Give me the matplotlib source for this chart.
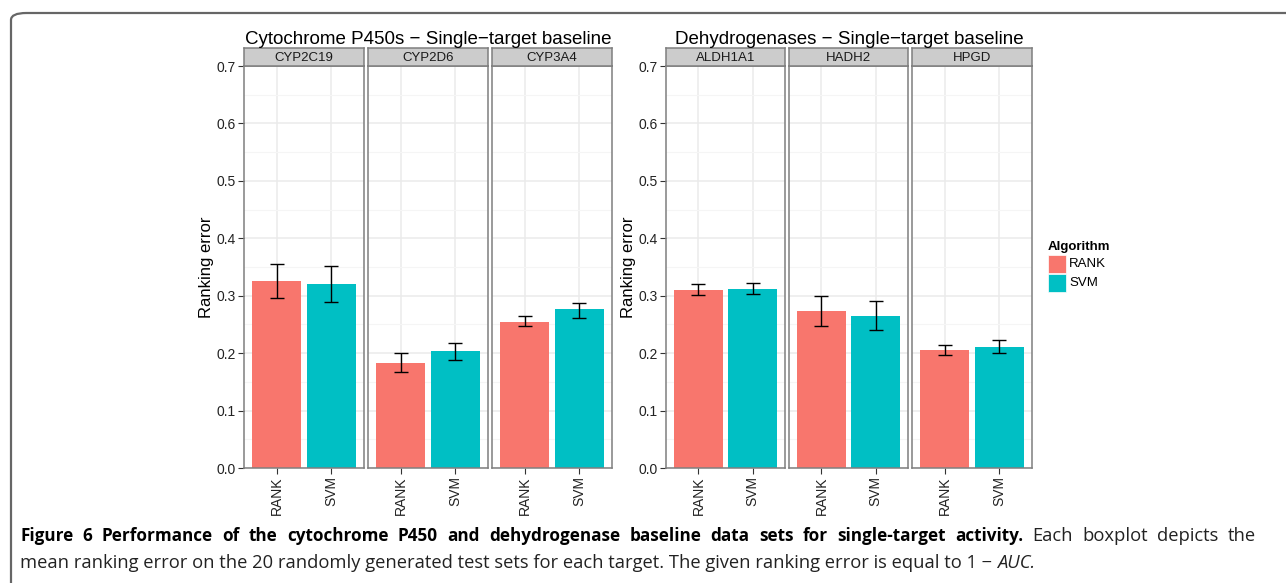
import numpy as np
import matplotlib
matplotlib.use('Agg')
from matplotlib import pyplot as plt
from matplotlib.patches import FancyBboxPatch, Rectangle

plt.rcParams['font.family'] = ['Liberation Sans', 'DejaVu Sans']

W, H = 1286, 583

algorithms = ['RANK', 'SVM']
colors = ['#F8766D', '#00BFC4']

group_titles = ['Cytochrome P450s \u2212 Single\u2212target baseline',
                'Dehydrogenases \u2212 Single\u2212target baseline']
targets = [['CYP2C19', 'CYP2D6', 'CYP3A4'],
           ['ALDH1A1', 'HADH2', 'HPGD']]

# mean ranking error per target, [RANK, SVM]
means = [[[0.326, 0.321], [0.183, 0.203], [0.255, 0.276]],
         [[0.310, 0.312], [0.274, 0.265], [0.206, 0.211]]]
lower = [[[0.296, 0.289], [0.167, 0.188], [0.247, 0.262]],
         [[0.301, 0.303], [0.248, 0.240], [0.196, 0.201]]]
upper = [[[0.356, 0.352], [0.200, 0.218], [0.265, 0.288]],
         [[0.320, 0.323], [0.299, 0.290], [0.215, 0.223]]]

fig = plt.figure(figsize=(W / 100, H / 100), dpi=100)


def fx(px):
    return px / W


def fy(py):
    return 1 - py / H


# outer frame of the figure box
frame = FancyBboxPatch((fx(11), fy(700)), fx(1400), (700 - 13) / H,
                       boxstyle='round,pad=0,rounding_size=0.012',
                       transform=fig.transFigure, fill=False,
                       edgecolor='#666666', lw=1.6, clip_on=False)
fig.patches.append(frame)

panel_x = [[(244, 364), (368, 488), (492, 612)],
           [(666, 785), (789, 908), (912, 1032)]]
top, bottom = 66, 468
strip_h = 18

for g in range(2):
    for p in range(3):
        x0, x1 = panel_x[g][p]
        ax = fig.add_axes([fx(x0), fy(bottom), (x1 - x0) / W, (bottom - top) / H])
        xs = np.arange(1, 3)
        ax.bar(xs, means[g][p], width=0.9, color=colors, zorder=2)
        m = np.array(means[g][p])
        err = [m - np.array(lower[g][p]), np.array(upper[g][p]) - m]
        ax.errorbar(xs, m, yerr=err, fmt='none', ecolor='black', elinewidth=1,
                    capsize=5, capthick=1, zorder=3)
        ax.set_xlim(0.4, 2.6)
        ax.set_ylim(0, 0.7)
        ax.set_yticks(np.arange(0, 0.71, 0.1))
        ax.set_yticks(np.arange(0.05, 0.7, 0.1), minor=True)
        ax.set_xticks(xs)
        ax.set_xticklabels(algorithms, rotation=90, fontsize=9.5)
        ax.grid(True, which='major', color='#EBEBEB', lw=1.1, zorder=0)
        ax.grid(True, which='minor', axis='y', color='#F5F5F5', lw=0.8, zorder=0)
        ax.set_axisbelow(True)
        for s in ax.spines.values():
            s.set_color('#7F7F7F')
            s.set_linewidth(1.1)
        ax.tick_params(axis='both', which='major', length=4, color='#333333',
                       labelsize=10, labelcolor='#222222', pad=2)
        ax.tick_params(axis='both', which='minor', length=0)
        if p == 0:
            ax.set_yticklabels(['%.1f' % v for v in np.arange(0, 0.71, 0.1)])
            ax.set_ylabel('Ranking error', fontsize=12, labelpad=2)
        else:
            ax.tick_params(axis='y', left=False, labelleft=False)
        # facet strip
        sax = fig.add_axes([fx(x0), fy(top), (x1 - x0) / W, strip_h / H])
        sax.set_xticks([])
        sax.set_yticks([])
        sax.set_facecolor('#CCCCCC')
        for s in sax.spines.values():
            s.set_color('#7F7F7F')
            s.set_linewidth(1.1)
        sax.text(0.5, 0.45, targets[g][p], ha='center', va='center', fontsize=9.5,
                 color='#1A1A1A', transform=sax.transAxes)
    cx = (panel_x[g][0][0] + panel_x[g][2][1]) / 2
    fig.text(fx(cx), fy(39), group_titles[g], ha='center', va='center', fontsize=13.5)

# legend
fig.text(fx(1048), fy(247), 'Algorithm', ha='left', va='center', fontsize=9.5,
         fontweight='bold')
for i, name in enumerate(algorithms):
    yy = 255 + i * 19
    fig.patches.append(Rectangle((fx(1048), fy(yy + 18)), 18 / W, 18 / H,
                                 transform=fig.transFigure, facecolor=colors[i],
                                 edgecolor='white', lw=0.5))
    fig.text(fx(1069), fy(yy + 9), name, ha='left', va='center', fontsize=9.5)

# caption, first line justified between x=20 and x=1256
cap = ['Open Sans', 'DejaVu Sans']
bold_part = 'Figure 6 Performance of the cytochrome P450 and dehydrogenase baseline data sets for single-target activity.'
rest = 'Each boxplot depicts the'
words = [(w, 'bold') for w in bold_part.split()] + [(w, 'normal') for w in rest.split()]
items = []
for w, wt in words:
    t = fig.text(0, fy(536), w, ha='left', va='center', family=cap,
                 fontweight=wt, fontsize=12.3 if wt == 'bold' else 13.2,
                 color='black' if wt == 'bold' else '#222222')
    items.append(t)
fig.canvas.draw()
widths = [t.get_window_extent().width for t in items]
gap = (1256 - 20 - sum(widths)) / (len(items) - 1)
x = 20
for t, wd in zip(items, widths):
    t.set_x(x / W)
    x += wd + gap

t3 = fig.text(fx(20), fy(563),
              'mean ranking error on the 20 randomly generated test sets for each target. The given ranking error is equal to 1 \u2212 ',
              ha='left', va='center', fontsize=13.2, family=cap, color='#222222')
fig.canvas.draw()
bb3 = t3.get_window_extent()
fig.text(bb3.x1 / W, fy(563), 'AUC.', ha='left', va='center', fontsize=13.2,
         family=cap, style='italic', color='#222222')

fig.savefig('out.png', dpi=100, facecolor='white')
